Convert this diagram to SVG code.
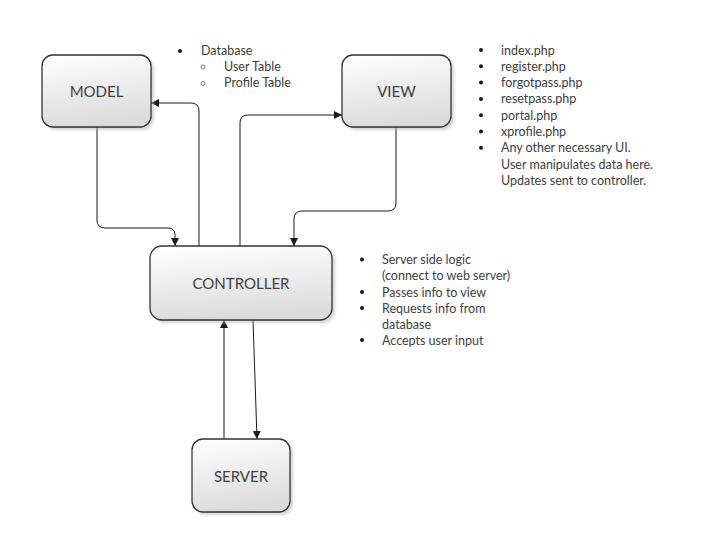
<svg xmlns="http://www.w3.org/2000/svg" width="703" height="556" viewBox="0 0 703 556">
<style>
.box{fill:url(#g);stroke:#333333;stroke-width:1.3}
.sh{fill:#b0b0b0;opacity:0.55}
.lbl{font-family:Lato,"Open Sans",sans-serif;font-size:15px;fill:#404040;text-anchor:middle;dominant-baseline:central}
.t{font-family:Lato,"Open Sans",sans-serif;font-size:12.5px;fill:#404040}
.c{fill:none;stroke:#1a1a1a;stroke-width:1}
</style>
<defs>
<linearGradient id="g" x1="0" y1="0" x2="0.2" y2="1">
<stop offset="0" stop-color="#ffffff"/>
<stop offset="1" stop-color="#dcdcdc"/>
</linearGradient>
<filter id="blur" x="-10%" y="-10%" width="130%" height="130%"><feGaussianBlur stdDeviation="1.5"/></filter>
<marker id="a" viewBox="0 0 10 10" refX="10" refY="5" markerWidth="8" markerHeight="8" markerUnits="userSpaceOnUse" orient="auto">
<path d="M0,0 L10,5 L0,10 z" fill="#1a1a1a"/>
</marker>
</defs>
<rect width="703" height="556" fill="#ffffff"/>

<g id="connectors">
<path class="c" d="M97,127 V220 Q97,228 105,228 H168 Q175,228 175,235 V246" marker-end="url(#a)"/>
<path class="c" d="M199,246 V111 Q199,103 191,103 H151" marker-end="url(#a)"/>
<path class="c" d="M240,246 V123 Q240,115 248,115 H342" marker-end="url(#a)"/>
<path class="c" d="M396,127 V203 Q396,211 388,211 H302 Q294,211 294,219 V246" marker-end="url(#a)"/>
<path class="c" d="M224,439 V320" marker-end="url(#a)"/>
<path class="c" d="M253,320 L257,439" marker-end="url(#a)"/>
</g>

<g id="model">
<rect class="sh" x="45" y="58" width="109" height="72" rx="11" filter="url(#blur)"/>
<rect class="box" x="42" y="55" width="109" height="72" rx="11"/>
<text class="lbl" x="96.5" y="91">MODEL</text>
</g>
<g id="view">
<rect class="sh" x="345" y="58" width="109" height="72" rx="11" filter="url(#blur)"/>
<rect class="box" x="342" y="55" width="109" height="72" rx="11"/>
<text class="lbl" x="396.5" y="91">VIEW</text>
</g>
<g id="controller">
<rect class="sh" x="153" y="249" width="182" height="74" rx="12" filter="url(#blur)"/>
<rect class="box" x="150" y="246" width="182" height="74" rx="12"/>
<text class="lbl" x="241" y="283">CONTROLLER</text>
</g>
<g id="server">
<rect class="sh" x="195" y="442" width="98" height="73" rx="11" filter="url(#blur)"/>
<rect class="box" x="192" y="439" width="98" height="73" rx="11"/>
<text class="lbl" x="241" y="476">SERVER</text>
</g>

<g id="model-notes" class="t">
<circle cx="180" cy="51" r="2" fill="#1a1a1a"/>
<text x="201" y="54.5">Database</text>
<circle cx="203" cy="67" r="2" fill="none" stroke="#555" stroke-width="0.8"/>
<text x="224" y="70.5">User Table</text>
<circle cx="203" cy="83.5" r="2" fill="none" stroke="#555" stroke-width="0.8"/>
<text x="224" y="87">Profile Table</text>
</g>

<g id="view-notes" class="t">
<g fill="#1a1a1a">
<circle cx="481" cy="50" r="2"/>
<circle cx="481" cy="66.3" r="2"/>
<circle cx="481" cy="82.6" r="2"/>
<circle cx="481" cy="98.9" r="2"/>
<circle cx="481" cy="115.2" r="2"/>
<circle cx="481" cy="131.5" r="2"/>
<circle cx="481" cy="147.8" r="2"/>
</g>
<text x="501" y="54.5">index.php</text>
<text x="501" y="70.8">register.php</text>
<text x="501" y="87.1">forgotpass.php</text>
<text x="501" y="103.4">resetpass.php</text>
<text x="501" y="119.7">portal.php</text>
<text x="501" y="136">xprofile.php</text>
<text x="501" y="152.3">Any other necessary UI.</text>
<text x="501" y="168.6">User manipulates data here.</text>
<text x="501" y="184.9">Updates sent to controller.</text>
</g>

<g id="controller-notes" class="t">
<g fill="#1a1a1a">
<circle cx="362" cy="259.5" r="2"/>
<circle cx="362" cy="292" r="2"/>
<circle cx="362" cy="308" r="2"/>
<circle cx="362" cy="340" r="2"/>
</g>
<text x="382" y="264">Server side logic</text>
<text x="382" y="280">(connect to web server)</text>
<text x="382" y="296.5">Passes info to view</text>
<text x="382" y="312.5">Requests info from</text>
<text x="382" y="328.5">database</text>
<text x="382" y="344.5">Accepts user input</text>
</g>
</svg>
